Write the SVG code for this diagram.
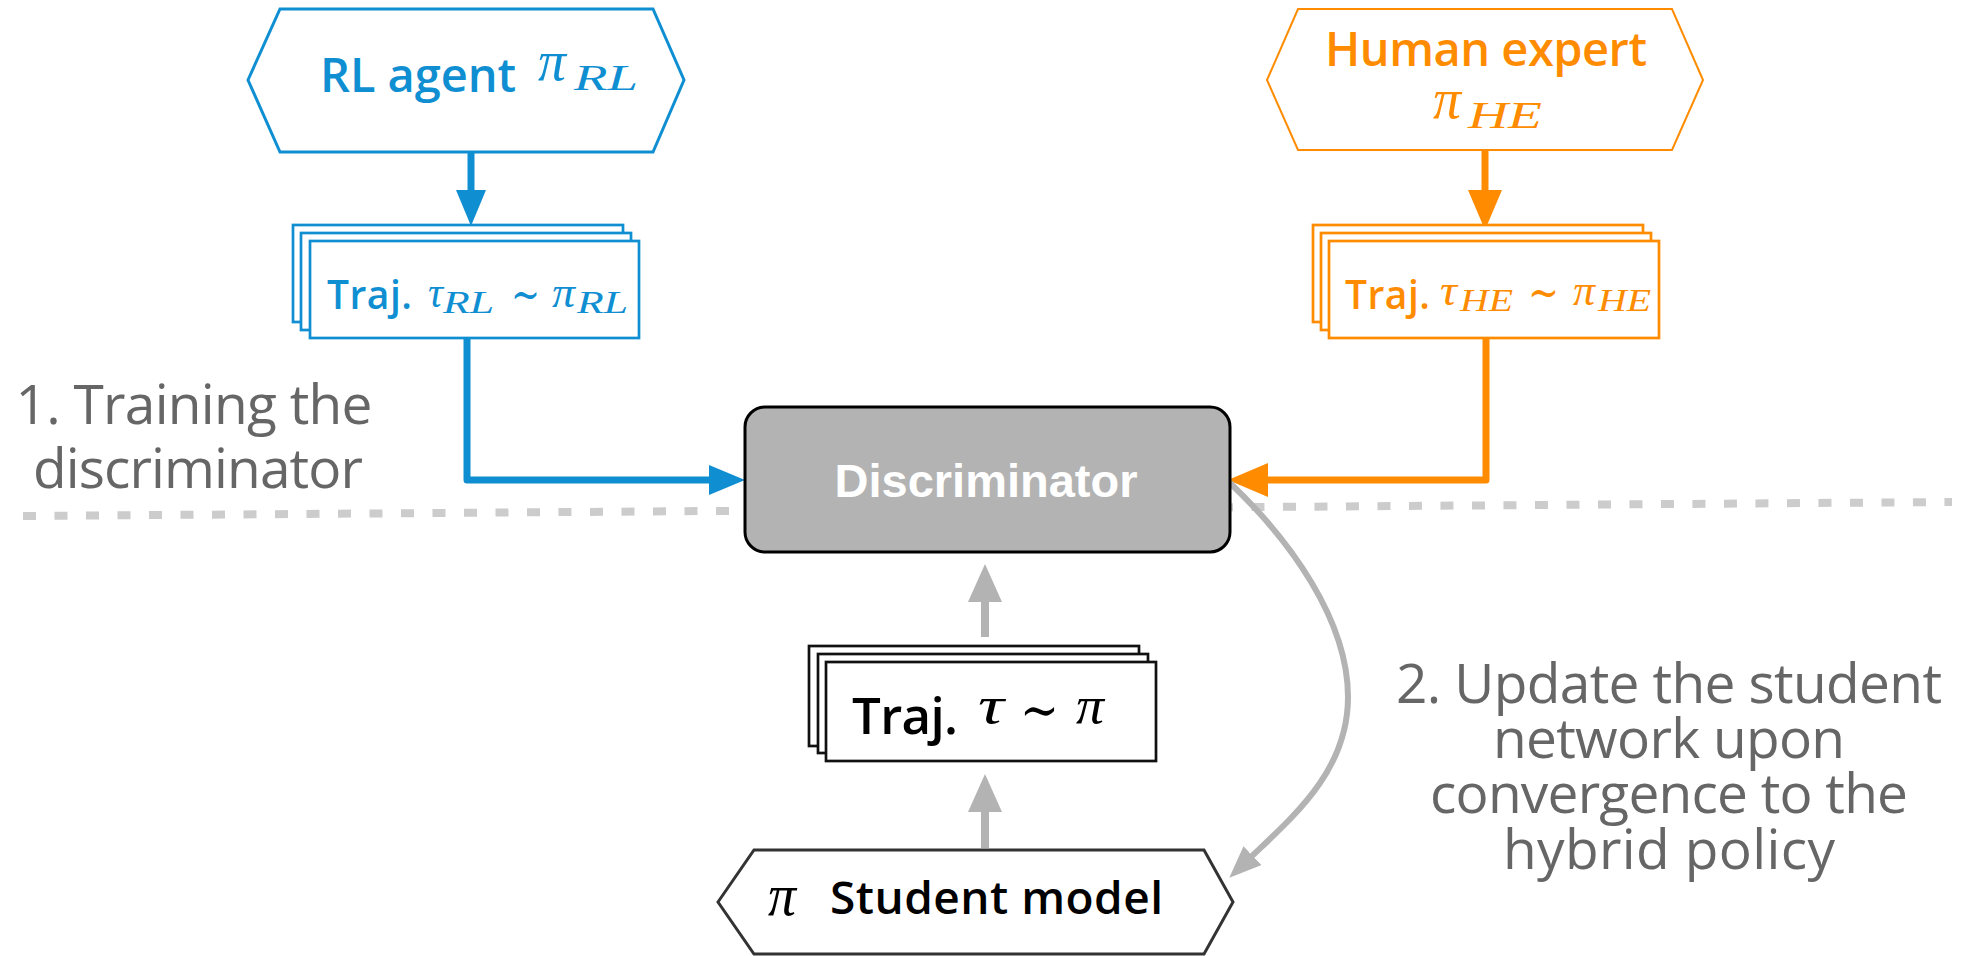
<svg xmlns="http://www.w3.org/2000/svg" width="1968" height="956" viewBox="0 0 1968 956">
<style>
.sans{font-family:"Open Sans","Noto Sans","Liberation Sans",sans-serif;font-weight:600}
.lbl{font-family:"Open Sans","Noto Sans","Liberation Sans",sans-serif;font-weight:500;fill:#666666;font-size:55px}
.math{font-family:"Liberation Serif","DejaVu Serif",serif;font-style:italic}
.op{font-family:"DejaVu Serif","Liberation Serif",serif;font-style:normal}
.blue{fill:#0F8FD2}
.orange{fill:#FF8C00}
.dark{fill:#000000}
.trajB{fill:#ffffff;stroke:#0F8FD2;stroke-width:2.7}
.trajO{fill:#ffffff;stroke:#FF8C00;stroke-width:2.7}
.trajK{fill:#ffffff;stroke:#111111;stroke-width:2.7}
.cb{fill:none;stroke:#0F8FD2;stroke-width:7;stroke-linejoin:round}
.co{fill:none;stroke:#FF8C00;stroke-width:7;stroke-linejoin:round}
.cg{fill:none;stroke:#B3B3B3;stroke-width:8}
.cgc{fill:none;stroke:#B3B3B3;stroke-width:6}
</style>
<defs>
<marker id="arrB" viewBox="0 0 36 30" refX="2" refY="15" markerWidth="36" markerHeight="30" markerUnits="userSpaceOnUse" orient="auto"><path d="M0,0 L36,15 L0,30 z" fill="#0F8FD2"/></marker>
<marker id="arrO" viewBox="0 0 40 34" refX="2" refY="17" markerWidth="40" markerHeight="34" markerUnits="userSpaceOnUse" orient="auto"><path d="M0,0 L40,17 L0,34 z" fill="#FF8C00"/></marker>
<marker id="arrG" viewBox="0 0 38 34" refX="2" refY="17" markerWidth="38" markerHeight="34" markerUnits="userSpaceOnUse" orient="auto"><path d="M0,0 L38,17 L0,34 z" fill="#B3B3B3"/></marker>
<marker id="arrGs" viewBox="0 0 32 26" refX="2" refY="13" markerWidth="32" markerHeight="26" markerUnits="userSpaceOnUse" orient="auto"><path d="M0,0 L32,13 L0,26 z" fill="#B3B3B3"/></marker>
</defs>
<rect x="0" y="0" width="1968" height="956" fill="#ffffff"/>

<g id="separator">
<line x1="23" y1="516" x2="1952" y2="502" stroke="#CCCCCC" stroke-width="8" stroke-dasharray="13 18.5"/>
</g>

<g id="label-1">
<text class="lbl" x="194" y="424" text-anchor="middle" textLength="357">1. Training the</text>
<text class="lbl" x="198" y="488" text-anchor="middle" textLength="330">discriminator</text>
</g>

<g id="label-2">
<text class="lbl" x="1669" y="703" text-anchor="middle" textLength="546">2. Update the student</text>
<text class="lbl" x="1669" y="758" text-anchor="middle" textLength="352">network upon</text>
<text class="lbl" x="1669" y="813" text-anchor="middle" textLength="478">convergence to the</text>
<text class="lbl" x="1669" y="869" text-anchor="middle" textLength="332">hybrid policy</text>
</g>

<g id="connectors">
<path class="cb" d="M471,152 L471,192" marker-end="url(#arrB)"/>
<path class="cb" d="M467,338 L467,480 L711,480" marker-end="url(#arrB)"/>
<path class="co" d="M1485,150 L1485,192" marker-end="url(#arrO)"/>
<path class="co" d="M1486,338 L1486,480 L1266,480" marker-end="url(#arrO)"/>
<path class="cg" d="M985,637 L985,600" marker-end="url(#arrG)"/>
<path class="cg" d="M985,848 L985,810" marker-end="url(#arrG)"/>
<path class="cgc" d="M1230,483 C1290,540 1348,620 1348,697 C1348,770 1295,815 1251,857" marker-end="url(#arrGs)"/>
</g>

<g id="node-rl-agent">
<polygon points="248,80 280,9 653,9 684,80 653,152 280,152" fill="#ffffff" stroke="#0F8FD2" stroke-width="3"/>
<text class="sans blue" x="320" y="92" font-size="47" textLength="196">RL agent</text>
<text class="math blue" x="538" y="80" font-size="56" textLength="28" lengthAdjust="spacingAndGlyphs">π</text>
<text class="math blue" x="574" y="90" font-size="36" textLength="64" lengthAdjust="spacingAndGlyphs">RL</text>
</g>

<g id="node-human-expert">
<polygon points="1267,80 1298,9 1672,9 1703,80 1672,150 1298,150" fill="#ffffff" stroke="#FF8C00" stroke-width="2"/>
<text class="sans orange" x="1486" y="66" font-size="47" text-anchor="middle" textLength="322">Human expert</text>
<text class="math orange" x="1433" y="118" font-size="56" textLength="28" lengthAdjust="spacingAndGlyphs">π</text>
<text class="math orange" x="1468" y="128" font-size="38" textLength="74" lengthAdjust="spacingAndGlyphs">HE</text>
</g>

<g id="node-traj-rl">
<rect class="trajB" x="293" y="225" width="330" height="97"/>
<rect class="trajB" x="301" y="233" width="330" height="97"/>
<rect class="trajB" x="310" y="241" width="329" height="97"/>
<text class="sans blue" x="327" y="309" font-size="39" textLength="85">Traj.</text>
<text class="math blue" x="428" y="307" font-size="44" textLength="15" lengthAdjust="spacingAndGlyphs">τ</text>
<text class="math blue" x="443" y="313" font-size="31" textLength="51" lengthAdjust="spacingAndGlyphs">RL</text>
<text class="op blue" x="511" y="310" font-size="46" textLength="29" lengthAdjust="spacingAndGlyphs">∼</text>
<text class="math blue" x="552" y="307" font-size="44" textLength="23" lengthAdjust="spacingAndGlyphs">π</text>
<text class="math blue" x="577" y="313" font-size="31" textLength="51" lengthAdjust="spacingAndGlyphs">RL</text>
</g>

<g id="node-traj-he">
<rect class="trajO" x="1313" y="225" width="330" height="97"/>
<rect class="trajO" x="1321" y="233" width="330" height="97"/>
<rect class="trajO" x="1329" y="241" width="330" height="97"/>
<text class="sans orange" x="1345" y="309" font-size="39" textLength="85">Traj.</text>
<text class="math orange" x="1440" y="305" font-size="44" textLength="17" lengthAdjust="spacingAndGlyphs">τ</text>
<text class="math orange" x="1460" y="311" font-size="31" textLength="53" lengthAdjust="spacingAndGlyphs">HE</text>
<text class="op orange" x="1528" y="308" font-size="46" textLength="31" lengthAdjust="spacingAndGlyphs">∼</text>
<text class="math orange" x="1573" y="305" font-size="44" textLength="22" lengthAdjust="spacingAndGlyphs">π</text>
<text class="math orange" x="1598" y="311" font-size="31" textLength="53" lengthAdjust="spacingAndGlyphs">HE</text>
</g>

<g id="node-discriminator">
<rect x="745" y="407" width="485" height="145" rx="20" ry="20" fill="#B3B3B3" stroke="#000000" stroke-width="3"/>
<text x="986" y="497" font-family="'Liberation Sans',Arial,sans-serif" font-weight="700" font-size="47" fill="#ffffff" text-anchor="middle">Discriminator</text>
</g>

<g id="node-traj-student">
<rect class="trajK" x="809" y="646" width="330" height="100"/>
<rect class="trajK" x="818" y="654" width="330" height="99"/>
<rect class="trajK" x="826" y="662" width="330" height="99"/>
<text class="sans dark" x="852" y="734" font-size="51" textLength="106">Traj.</text>
<text class="math dark" x="978" y="723" font-size="52" textLength="26" lengthAdjust="spacingAndGlyphs">τ</text>
<text class="op dark" x="1020" y="729" font-size="56" textLength="39" lengthAdjust="spacingAndGlyphs">∼</text>
<text class="math dark" x="1076" y="723" font-size="52" textLength="28" lengthAdjust="spacingAndGlyphs">π</text>
</g>

<g id="node-student">
<polygon points="718,902 754,850 1204,850 1233,902 1204,954 754,954" fill="#ffffff" stroke="#333333" stroke-width="3"/>
<text class="math dark" x="768" y="915" font-size="60" textLength="28" lengthAdjust="spacingAndGlyphs">π</text>
<text class="sans dark" x="830" y="914" font-size="46" textLength="333">Student model</text>
</g>
</svg>
